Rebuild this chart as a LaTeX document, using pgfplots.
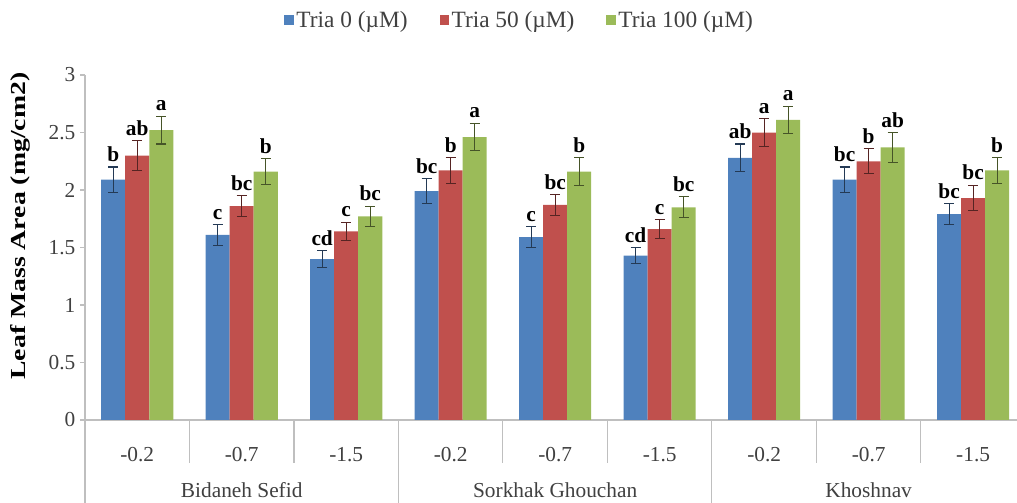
\documentclass[border=0pt]{standalone}
\usepackage{graphicx}
\usepackage{pgfplots}
\pgfplotsset{compat=1.18}
\usepackage{pgfplotstable}
\usepackage{fontspec}
\setmainfont{Liberation Serif}
\definecolor{cblue}{HTML}{4F81BD}
\definecolor{cred}{HTML}{C0504D}
\definecolor{cgreen}{HTML}{9BBB59}
\definecolor{axgray}{HTML}{BFBFBF}
\definecolor{txtgray}{HTML}{404040}

\pgfplotstableread{
x y err lab
0 2.09 0.11 b
1 1.61 0.09 c
2 1.40 0.07 cd
3 1.99 0.11 bc
4 1.59 0.09 c
5 1.43 0.07 cd
6 2.28 0.12 ab
7 2.09 0.11 bc
8 1.79 0.09 bc
}\tblA
\pgfplotstableread{
x y err lab
0 2.30 0.13 ab
1 1.86 0.09 bc
2 1.64 0.08 c
3 2.17 0.11 b
4 1.87 0.09 bc
5 1.66 0.08 c
6 2.50 0.12 a
7 2.25 0.11 b
8 1.93 0.11 bc
}\tblB
\pgfplotstableread{
x y err lab
0 2.52 0.12 a
1 2.16 0.11 b
2 1.77 0.09 bc
3 2.46 0.12 a
4 2.16 0.12 b
5 1.85 0.09 bc
6 2.61 0.12 a
7 2.37 0.13 ab
8 2.17 0.11 b
}\tblC

\begin{document}
\begin{tikzpicture}
\path[use as bounding box] (0pt,0pt) rectangle (762.75pt,377.25pt);
\begin{axis}[
  at={(63.75pt,62.25pt)}, anchor=south west,
  scale only axis, width=699pt, height=258.75pt,
  xmin=-0.5, xmax=8.42, ymin=0, ymax=3,
  clip=false,
  ybar=0pt, bar width=0.23,
  axis x line=bottom, axis y line=left,
  axis line style={draw=axgray, line width=0.8pt, -},
  xtick={0,...,8},
  xticklabels={-0.2,-0.7,-1.5,-0.2,-0.7,-1.5,-0.2,-0.7,-1.5},
  x tick style={draw=none},
  xticklabel style={anchor=center, yshift=-22.5pt, text=txtgray, font=\fontsize{16}{18}\selectfont},
  ytick={0,0.5,1,1.5,2,2.5,3},
  y tick style={draw=axgray, line width=0.8pt},
  tick align=outside, major tick length=3.75pt,
  yticklabel style={text=txtgray, font=\fontsize{16}{18}\selectfont,
     /pgf/number format/assume math mode=true, /pgf/number format/fixed},
  ylabel={\scalebox{1.3}[1]{\bfseries Leaf Mass Area (mg/cm2)}},
  ylabel style={at={(axis description cs:-0.0697,0.562)}, anchor=center, font=\fontsize{16}{18}\selectfont},
  legend columns=3,
  legend style={draw=none, at={(0.4667,1.159)}, anchor=center,
     font=\fontsize{17.5}{19}\selectfont, text=txtgray,
     /tikz/every even column/.append style={column sep=22pt}},
  legend image code/.code={\fill[#1] (0pt,-3.5pt) rectangle (7pt,3.5pt);},
  nodes near coords, point meta=explicit symbolic,
  visualization depends on={\thisrow{err} \as \myerr},
  every node near coord/.append style={font=\bfseries\fontsize{16}{18}\selectfont,
     text=black, anchor=south, inner sep=1.5pt, yshift=\myerr*86.25pt+2.2pt},
]
\addplot[fill=cblue, draw=none,
  error bars/.cd, y dir=both, y explicit,
  error bar style={color=cblue!45!black, line width=0.8pt},
  error mark options={rotate=90, mark size=3.75pt, color=cblue!45!black, line width=0.8pt}]
  table[x=x, y=y, y error=err, meta=lab] {\tblA};
\addlegendentry{Tria 0 (µM)}
\addplot[fill=cred, draw=none,
  error bars/.cd, y dir=both, y explicit,
  error bar style={color=cred!45!black, line width=0.8pt},
  error mark options={rotate=90, mark size=3.75pt, color=cred!45!black, line width=0.8pt}]
  table[x=x, y=y, y error=err, meta=lab] {\tblB};
\addlegendentry{Tria 50 (µM)}
\addplot[fill=cgreen, draw=none,
  error bars/.cd, y dir=both, y explicit,
  error bar style={color=cgreen!45!black, line width=0.8pt},
  error mark options={rotate=90, mark size=3.75pt, color=cgreen!45!black, line width=0.8pt}]
  table[x=x, y=y, y error=err, meta=lab] {\tblC};
\addlegendentry{Tria 100 (µM)}
\pgfplotsinvokeforeach{0.5,1.5,3.5,4.5,6.5,7.5}{
  \draw[axgray, line width=0.8pt] (axis cs:#1,0) -- ++(0pt,-32.25pt);
}
\pgfplotsinvokeforeach{-0.5,2.5,5.5}{
  \draw[axgray, line width=0.8pt] (axis cs:#1,0) -- ++(0pt,-62.25pt);
}
\node[text=txtgray, font=\fontsize{16}{18}\selectfont] at (axis cs:1,0) [yshift=-52.5pt] {Bidaneh Sefid};
\node[text=txtgray, font=\fontsize{16}{18}\selectfont] at (axis cs:4,0) [yshift=-52.5pt] {Sorkhak Ghouchan};
\node[text=txtgray, font=\fontsize{16}{18}\selectfont] at (axis cs:7,0) [yshift=-52.5pt] {Khoshnav};
\end{axis}
\end{tikzpicture}
\end{document}
